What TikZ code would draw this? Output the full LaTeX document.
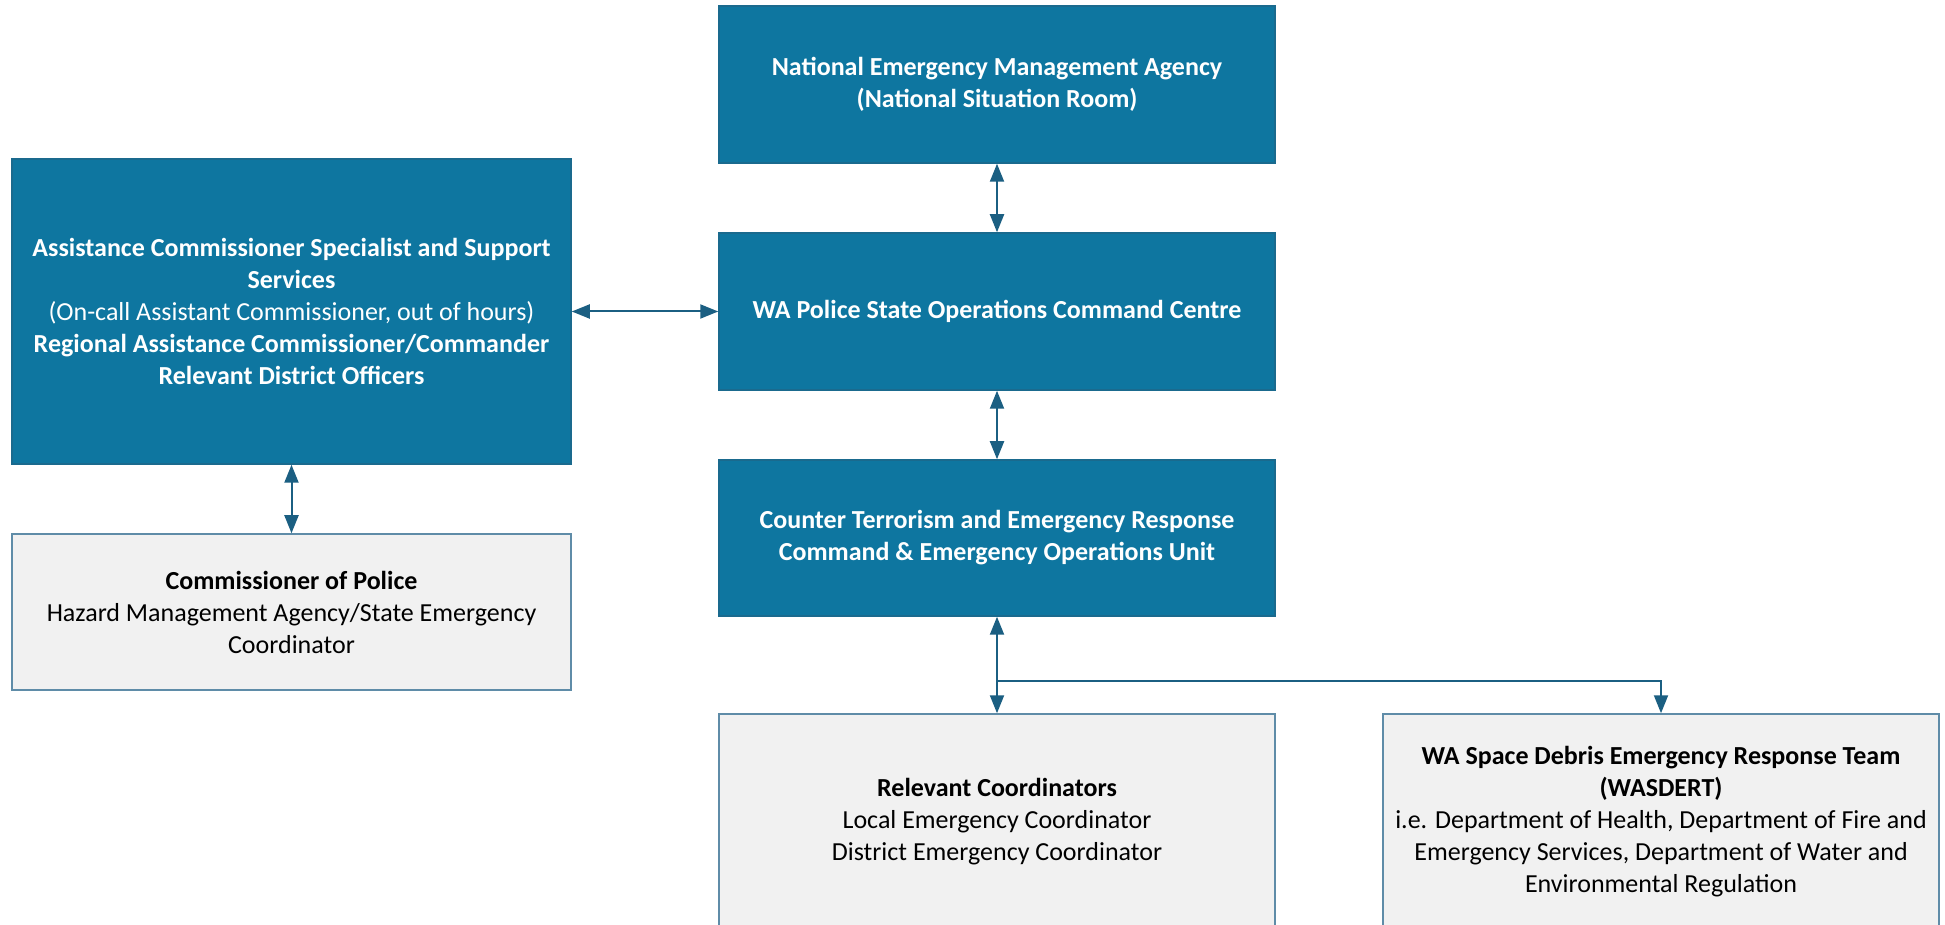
\documentclass[tikz,border=0pt]{standalone}
\usepackage{fontspec}
\setmainfont{Carlito}
\usetikzlibrary{arrows.meta}
\definecolor{boxblue}{HTML}{0E76A0}
\definecolor{boxblueline}{HTML}{1A6A8E}
\definecolor{boxgrey}{HTML}{F1F1F1}
\definecolor{boxgreyline}{HTML}{5F8CA8}
\definecolor{linkblue}{HTML}{1B5F82}
\begin{document}
\begin{tikzpicture}[x=1pt,y=1pt,
  bluebox/.style={draw=boxblueline,line width=1.5pt,fill=boxblue,text=white,
    font=\fontsize{26}{32}\selectfont\bfseries,align=center,inner sep=0pt,
    minimum width=556pt},
  greybox/.style={draw=boxgreyline,line width=1.5pt,fill=boxgrey,text=black,
    font=\fontsize{26}{32}\selectfont,align=center,inner sep=0pt,
    minimum width=556pt},
  link/.style={draw=linkblue,line width=2pt,{Triangle[width=14pt,length=18pt]}-{Triangle[width=14pt,length=18pt]}},
  branch/.style={draw=linkblue,line width=2pt,-{Triangle[width=14pt,length=18pt]}}]
\useasboundingbox[fill=white] (0,0) rectangle (1945,924);
% Drawing boxes
\node[bluebox,minimum height=157pt] (nema) at (997,839.5)
  {National Emergency Management Agency\\(National Situation Room)};
\node[bluebox,minimum height=157pt] (police) at (997,612.5)
  {WA Police State Operations Command Centre};
\node[bluebox,minimum height=156pt] (ctu) at (997,386)
  {Counter Terrorism and Emergency Response\\Command \& Emergency Operations Unit};
\node[bluebox,minimum width=559pt,minimum height=305pt] (accs) at (291.5,612.5)
  {Assistance Commissioner Specialist and Support\\Services\\
   {\mdseries (On-call Assistant Commissioner, out of hours)}\\
   Regional Assistance Commissioner/Commander\\Relevant District Officers};
\node[greybox,minimum width=559pt,minimum height=156pt] (cop) at (291.5,312)
  {\textbf{Commissioner of Police}\\Hazard Management Agency/State Emergency\\Coordinator};
\node[greybox,minimum height=216pt] (relcoord) at (997,102)
  {\textbf{Relevant Coordinators}\\Local Emergency Coordinator\\District Emergency Coordinator};
\node[greybox,minimum height=216pt] (wasdert) at (1661,102)
  {\textbf{WA Space Debris Emergency Response Team}\\\textbf{(WASDERT)}\\
   i.e. Department of Health, Department of Fire and\\
   Emergency Services, Department of Water and\\Environmental Regulation};
% Done with boxes; drawing links
\draw[link] (nema.south) -- (police.north);
\draw[link] (police.south) -- (ctu.north);
\draw[link] (accs.east) -- (police.west);
\draw[link] (accs.south) -- (cop.north);
\draw[link] (ctu.south) -- (relcoord.north);
\coordinate (split) at (997,243);
\draw[branch] (split) -| (wasdert.north);
% Done with links
\end{tikzpicture}
\end{document}
